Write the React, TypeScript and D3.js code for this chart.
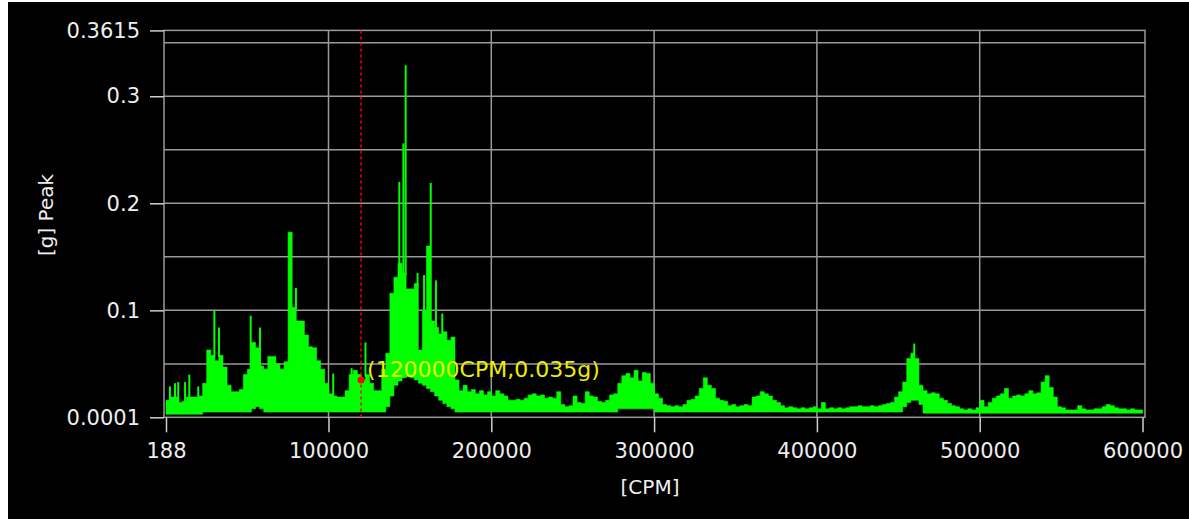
import { useEffect, useRef } from "react";
import * as d3 from "d3";

// Spectrum in 2500 CPM bins starting at 188 CPM
const binStart = 188;
const binWidth = 2500;

// top of the solid green band per bin [g]
const peakHigh = [
  0.016, 0.019, 0.019, 0.014, 0.015, 0.019, 0.019, 0.019, 0.02, 0.032,
  0.063, 0.058, 0.053, 0.058, 0.047, 0.03, 0.024, 0.024, 0.026, 0.04,
  0.045, 0.07, 0.065, 0.048, 0.045, 0.057, 0.057, 0.05, 0.045, 0.052,
  0.173, 0.103, 0.09, 0.09, 0.077, 0.066, 0.065, 0.053, 0.045, 0.032,
  0.022, 0.02, 0.019, 0.019, 0.025, 0.04, 0.044, 0.04, 0.035, 0.04,
  0.032, 0.025, 0.025, 0.045, 0.06, 0.116, 0.131, 0.144, 0.135, 0.12,
  0.12, 0.125, 0.063, 0.1, 0.16, 0.09, 0.084, 0.078, 0.08, 0.072,
  0.075, 0.035, 0.025, 0.03, 0.024, 0.026, 0.022, 0.025, 0.021, 0.024,
  0.02, 0.025, 0.022, 0.02, 0.016, 0.016, 0.017, 0.016, 0.018, 0.021,
  0.022, 0.02, 0.021, 0.018, 0.019, 0.018, 0.024, 0.012, 0.01, 0.011,
  0.02, 0.014, 0.013, 0.024, 0.02, 0.019, 0.015, 0.014, 0.016, 0.021,
  0.022, 0.032, 0.039, 0.041, 0.037, 0.044, 0.034, 0.042, 0.041, 0.032,
  0.022, 0.018, 0.012, 0.011, 0.01, 0.011, 0.01, 0.012, 0.016, 0.017,
  0.02, 0.027, 0.037, 0.03, 0.027, 0.018, 0.016, 0.015, 0.011, 0.012,
  0.01, 0.011, 0.012, 0.011, 0.019, 0.02, 0.024, 0.022, 0.02, 0.016,
  0.014, 0.011, 0.009, 0.01, 0.009, 0.008, 0.009, 0.008, 0.009, 0.01,
  0.008, 0.014, 0.008, 0.009, 0.008, 0.009, 0.008, 0.009, 0.01, 0.01,
  0.011, 0.01, 0.01, 0.011, 0.01, 0.011, 0.012, 0.013, 0.014, 0.019,
  0.024, 0.033, 0.055, 0.06, 0.055, 0.03, 0.025, 0.022, 0.023, 0.022,
  0.018, 0.016, 0.013, 0.011, 0.01, 0.008, 0.007, 0.008, 0.007, 0.009,
  0.016, 0.01, 0.014, 0.018, 0.02, 0.022, 0.027, 0.018, 0.02, 0.021,
  0.02, 0.022, 0.025, 0.022, 0.023, 0.033, 0.039, 0.028, 0.019, 0.01,
  0.009, 0.007, 0.007, 0.007, 0.011, 0.008, 0.007, 0.007, 0.008, 0.008,
  0.01, 0.012, 0.011, 0.009, 0.008, 0.008, 0.007, 0.008, 0.007, 0.007,
];

// bottom of the green band per bin [g]
const peakLow = [
  0.003, 0.003, 0.003, 0.003, 0.003, 0.003, 0.003, 0.003, 0.003, 0.005,
  0.005, 0.005, 0.005, 0.005, 0.005, 0.005, 0.005, 0.005, 0.005, 0.005,
  0.005, 0.008, 0.01, 0.008, 0.005, 0.005, 0.005, 0.005, 0.005, 0.005,
  0.005, 0.005, 0.005, 0.005, 0.005, 0.005, 0.005, 0.005, 0.005, 0.005,
  0.005, 0.005, 0.005, 0.005, 0.005, 0.005, 0.005, 0.005, 0.005, 0.005,
  0.005, 0.005, 0.005, 0.005, 0.01, 0.02, 0.03, 0.034, 0.037, 0.038,
  0.037, 0.035, 0.032, 0.03, 0.027, 0.024, 0.02, 0.016, 0.013, 0.01,
  0.008, 0.005, 0.005, 0.005, 0.005, 0.005, 0.005, 0.005, 0.005, 0.005,
  0.005, 0.005, 0.005, 0.005, 0.005, 0.005, 0.005, 0.005, 0.005, 0.005,
  0.005, 0.005, 0.005, 0.005, 0.005, 0.005, 0.005, 0.005, 0.005, 0.005,
  0.005, 0.005, 0.005, 0.005, 0.005, 0.005, 0.005, 0.005, 0.005, 0.005,
  0.005, 0.008, 0.008, 0.008, 0.008, 0.008, 0.008, 0.008, 0.008, 0.008,
  0.005, 0.005, 0.005, 0.005, 0.005, 0.005, 0.005, 0.005, 0.005, 0.005,
  0.005, 0.005, 0.005, 0.005, 0.005, 0.005, 0.005, 0.005, 0.005, 0.005,
  0.005, 0.005, 0.005, 0.005, 0.005, 0.005, 0.005, 0.005, 0.005, 0.005,
  0.005, 0.005, 0.005, 0.005, 0.005, 0.005, 0.005, 0.005, 0.005, 0.005,
  0.005, 0.005, 0.005, 0.005, 0.005, 0.005, 0.005, 0.005, 0.005, 0.005,
  0.005, 0.005, 0.005, 0.005, 0.005, 0.005, 0.005, 0.005, 0.005, 0.005,
  0.005, 0.01, 0.014, 0.016, 0.016, 0.012, 0.004, 0.004, 0.004, 0.004,
  0.004, 0.004, 0.004, 0.004, 0.004, 0.004, 0.004, 0.004, 0.004, 0.004,
  0.004, 0.004, 0.004, 0.004, 0.004, 0.004, 0.004, 0.004, 0.004, 0.004,
  0.004, 0.004, 0.004, 0.004, 0.004, 0.004, 0.004, 0.004, 0.004, 0.004,
  0.004, 0.004, 0.004, 0.004, 0.004, 0.004, 0.004, 0.004, 0.004, 0.004,
  0.004, 0.004, 0.004, 0.004, 0.004, 0.004, 0.004, 0.004, 0.004, 0.004,
];

// thin single-line spikes above the band
const spikeCpm = [
  2600, 5700, 7700, 11900, 14500, 20000, 29900, 32700, 52200, 57900,
  80000, 102900, 114200, 122700, 143500, 146000, 147400, 154700, 158700,
  162800, 166000, 169900, 459800,
];
const spikeG = [
  0.029, 0.032, 0.033, 0.033, 0.04, 0.029, 0.1, 0.084, 0.095, 0.084,
  0.121, 0.041, 0.046, 0.07, 0.22, 0.256, 0.329, 0.135, 0.133,
  0.219, 0.128, 0.097, 0.069,
];

const xTicks = [188, 100000, 200000, 300000, 400000, 500000, 600000];
const xGrid = [100000, 200000, 300000, 400000, 500000];
const yTicks = [0.0001, 0.1, 0.2, 0.3, 0.3615];
const yGrid = [0.05, 0.1, 0.15, 0.2, 0.25, 0.3, 0.35];

const cursorCpm = 120000;
const cursorG = 0.035;
const cursorLabel = "(120000CPM,0.035g)";

const App = () => {
  const svgRef = useRef<SVGSVGElement>(null);

  useEffect(() => {
    const svg = d3.select(svgRef.current);
    svg.selectAll("*").remove();

    const width = 1189;
    const height = 519;
    const frame = { left: 164, right: 1145, top: 30.4, bottom: 417.3 };
    const font = "'DejaVu Sans', Verdana, sans-serif";

    const x = d3.scaleLinear().domain([188, 600000]).range([166, 1142.5]);
    const y = d3.scaleLinear().domain([0.0001, 0.3615]).range([frame.bottom, frame.top]);

    // black panel
    svg
      .append("rect")
      .attr("x", 8)
      .attr("y", 2)
      .attr("width", width - 8)
      .attr("height", height - 2)
      .attr("fill", "#000");

    // grid
    const grid = svg.append("g").attr("stroke", "#9a9a9a").attr("stroke-width", 1.5);
    grid
      .selectAll("line.h")
      .data(yGrid)
      .join("line")
      .attr("x1", frame.left)
      .attr("x2", frame.right)
      .attr("y1", (d) => y(d))
      .attr("y2", (d) => y(d));
    grid
      .selectAll("line.v")
      .data(xGrid)
      .join("line")
      .attr("x1", (d) => x(d))
      .attr("x2", (d) => x(d))
      .attr("y1", frame.top)
      .attr("y2", frame.bottom);
    grid
      .append("rect")
      .attr("x", frame.left)
      .attr("y", frame.top)
      .attr("width", frame.right - frame.left)
      .attr("height", frame.bottom - frame.top)
      .attr("fill", "none");

    // spectrum band
    const bins = peakHigh.map((hi, i) => ({ cpm: binStart + i * binWidth, hi, lo: peakLow[i] }));
    const last = bins[bins.length - 1];
    bins.push({ cpm: 600000, hi: last.hi, lo: last.lo });

    const band = d3
      .area<{ cpm: number; hi: number; lo: number }>()
      .x((d) => x(d.cpm))
      .y0((d) => y(d.lo))
      .y1((d) => y(d.hi))
      .curve(d3.curveStepAfter);

    svg
      .append("path")
      .datum(bins)
      .attr("fill", "#00ff00")
      .attr("stroke", "#00ff00")
      .attr("stroke-width", 0.6)
      .attr("d", band);

    // spikes start inside the band of the bin they sit in
    const bandTop = (cpm: number) =>
      peakHigh[Math.min(peakHigh.length - 1, Math.floor((cpm - binStart) / binWidth))];

    svg
      .append("g")
      .selectAll("line")
      .data(spikeCpm)
      .join("line")
      .attr("x1", (d) => x(d))
      .attr("x2", (d) => x(d))
      .attr("y1", (d) => y(bandTop(d)) + 2)
      .attr("y2", (d, i) => y(spikeG[i]))
      .attr("stroke", "#00ff00")
      .attr("stroke-width", 2);

    // axes
    const yAxis = svg
      .append("g")
      .attr("transform", `translate(${frame.left},0)`)
      .call(
        d3
          .axisLeft(y)
          .tickValues(yTicks)
          .tickSize(14)
          .tickPadding(10)
          .tickFormat((d) => String(d))
      );
    const xAxis = svg
      .append("g")
      .attr("transform", `translate(0,${frame.bottom})`)
      .call(
        d3
          .axisBottom(x)
          .tickValues(xTicks)
          .tickSize(15)
          .tickPadding(11)
          .tickFormat((d) => String(d))
      );
    [yAxis, xAxis].forEach((g) => {
      g.select(".domain").remove();
      g.selectAll(".tick line").attr("stroke", "#cfcfcf").attr("stroke-width", 1.5);
      g.selectAll(".tick text")
        .attr("fill", "#eeeeee")
        .attr("font-family", font)
        .attr("font-size", 21);
    });

    // cursor
    svg
      .append("line")
      .attr("x1", x(cursorCpm))
      .attr("x2", x(cursorCpm))
      .attr("y1", frame.top)
      .attr("y2", frame.bottom)
      .attr("stroke", "#ff0000")
      .attr("stroke-width", 1.5)
      .attr("stroke-dasharray", "3,3");
    svg
      .append("circle")
      .attr("cx", x(cursorCpm))
      .attr("cy", y(cursorG))
      .attr("r", 3.5)
      .attr("fill", "#ff0000");
    svg
      .append("text")
      .attr("x", x(cursorCpm) + 6)
      .attr("y", y(cursorG) - 3)
      .attr("fill", "#eeee00")
      .attr("font-family", font)
      .attr("font-size", 22)
      .text(cursorLabel);

    // axis titles
    svg
      .append("text")
      .attr("transform", "translate(46,215) rotate(-90)")
      .attr("text-anchor", "middle")
      .attr("dominant-baseline", "central")
      .attr("fill", "#eeeeee")
      .attr("font-family", font)
      .attr("font-size", 20)
      .text("[g] Peak");
    svg
      .append("text")
      .attr("x", 650)
      .attr("y", 494)
      .attr("text-anchor", "middle")
      .attr("fill", "#eeeeee")
      .attr("font-family", font)
      .attr("font-size", 20)
      .text("[CPM]");
  }, []);

  return (
    <svg
      ref={svgRef}
      width={1189}
      height={519}
      style={{ position: "absolute", left: 0, top: 0 }}
    ></svg>
  );
};

export default App;
